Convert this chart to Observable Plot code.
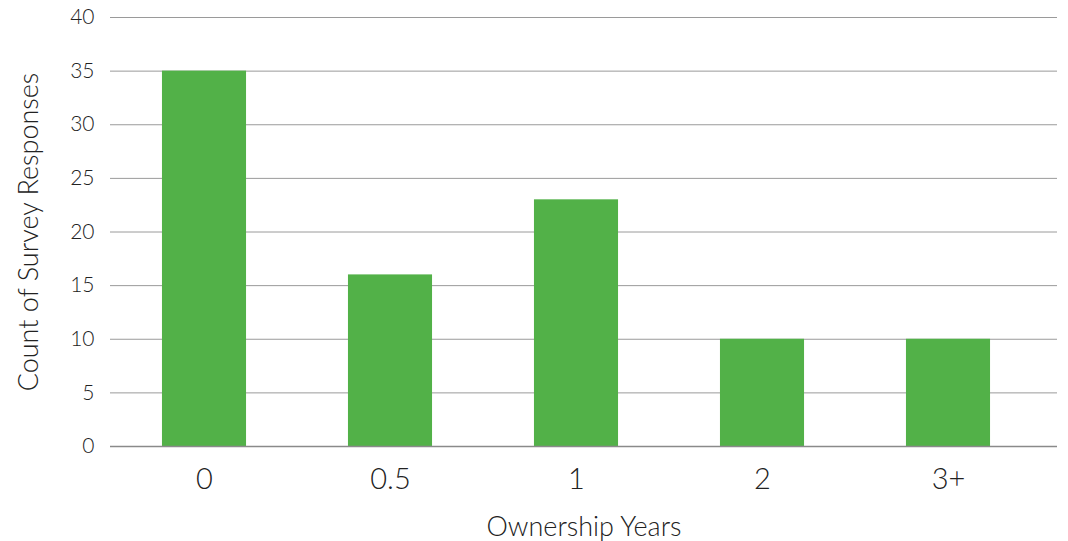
<!DOCTYPE html>
<html><head><meta charset="utf-8">
<script src="https://cdn.jsdelivr.net/npm/d3@7"></script>
<script src="https://cdn.jsdelivr.net/npm/@observablehq/plot@0.6"></script>
<style>body{margin:0;background:#fff;} svg{display:block;}</style>
</head><body><div id="chart"></div>
<script>
const categories = ["0", "0.5", "1", "2", "3+"];
const counts = [35, 16, 23, 10, 10];
const yTicks = [0, 5, 10, 15, 20, 25, 30, 35, 40];
const data = categories.map((c, i) => ({year: c, count: counts[i]}));

const chart = Plot.plot({
  width: 1068, height: 541,
  marginLeft: 110, marginRight: 11, marginTop: 17, marginBottom: 95,
  style: {fontFamily: "Lato, sans-serif", fontWeight: 300, color: "#222", background: "#fff"},
  x: {domain: categories, range: [111, 1041], paddingInner: 0.548, paddingOuter: 0.274, round: false},
  y: {domain: [0, 40]},
  marks: [
    Plot.gridY(yTicks, {stroke: "#9a9a9a", strokeOpacity: 1, strokeWidth: 1}),
    Plot.barY(data, {x: "year", y: "count", fill: "#52b148"}),
    Plot.ruleY([0], {stroke: "#8a8a8a", strokeWidth: 1.5}),
    Plot.axisY(yTicks, {tickSize: 0, tickPadding: 16, fontSize: 21, fill: "#222",
      label: "Count of Survey Responses", labelAnchor: "center", labelArrow: "none", labelOffset: 92}),
    Plot.axisX({tickSize: 0, tickPadding: 22, fontSize: 29, fill: "#222",
      label: "Ownership Years", labelAnchor: "center", labelArrow: "none", labelOffset: 89})
  ]
});
chart.querySelectorAll("g[aria-label='y-axis tick label']").forEach(g => { g.setAttribute("font-size", 21); g.style.fontSize = "21px"; });
chart.querySelectorAll("g[aria-label='y-axis label'] text, g[aria-label='x-axis label'] text").forEach(t => t.setAttribute("font-size", 27));
document.getElementById("chart").append(chart);
</script></body></html>
